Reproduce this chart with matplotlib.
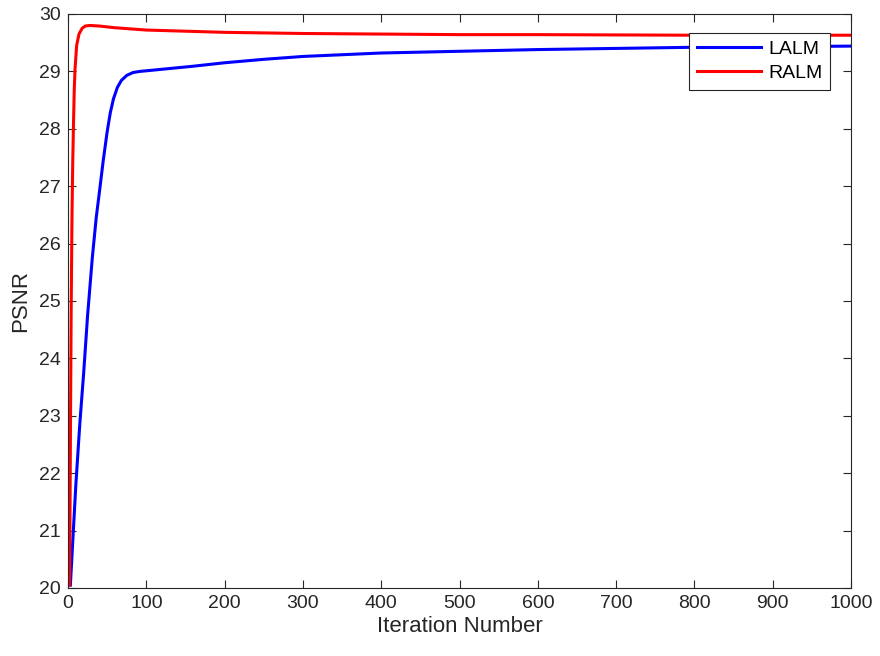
import matplotlib
matplotlib.use('Agg')
import matplotlib.pyplot as plt

plt.rcParams['font.family'] = ['Liberation Sans', 'DejaVu Sans']

# PSNR vs iteration
lalm_x = [3, 5, 7, 10, 15, 20, 25, 31, 36, 41, 45, 50, 54, 58, 63, 68, 75, 83, 92, 100,
          130, 160, 200, 250, 300, 400, 500, 600, 700, 800, 900, 1000]
lalm_y = [20.05, 20.55, 21.05, 21.8, 22.85, 23.75, 24.75, 25.75, 26.45, 27.0, 27.45,
          27.95, 28.28, 28.52, 28.72, 28.84, 28.93, 28.98, 29.0, 29.01, 29.05, 29.09,
          29.15, 29.21, 29.26, 29.32, 29.35, 29.38, 29.40, 29.42, 29.43, 29.44]

ralm_x = [2, 3, 4, 5, 6, 7, 8, 9, 11, 14, 18, 22, 28, 40, 60, 100, 150, 200,
          300, 400, 500, 600, 800, 1000]
ralm_y = [20.05, 22.5, 24.8, 26.4, 27.4, 28.1, 28.7, 29.05, 29.45, 29.65, 29.75,
          29.79, 29.80, 29.79, 29.76, 29.72, 29.70, 29.68, 29.66, 29.65, 29.64,
          29.64, 29.63, 29.63]

x_ticks = list(range(0, 1001, 100))
y_ticks = list(range(20, 31))

fig = plt.figure(figsize=(8.8, 6.56), dpi=100)
ax = fig.add_axes([0.0773, 0.1037, 0.8898, 0.875])

ax.plot(lalm_x, lalm_y, color='#0000ff', linewidth=2.2, label='LALM')
ax.plot(ralm_x, ralm_y, color='#ff0000', linewidth=2.2, label='RALM')

ax.set_xlim(0, 1000)
ax.set_ylim(20, 30)
ax.set_xticks(x_ticks)
ax.set_yticks(y_ticks)
ax.tick_params(direction='in', length=6, width=0.8, labelsize=14, pad=5,
               colors='#262626', top=True, right=True, labeltop=False, labelright=False)
for spine in ax.spines.values():
    spine.set_edgecolor('#262626')
    spine.set_linewidth(0.8)

ax.set_xlabel('Iteration Number', fontsize=16, color='#262626', labelpad=3)
ax.set_ylabel('PSNR', fontsize=16, color='#262626', labelpad=6)

leg = ax.legend(loc='upper right', bbox_to_anchor=(0.973, 0.967), borderaxespad=0,
                fontsize=14, frameon=True, fancybox=False, handlelength=3.3,
                borderpad=0.4, labelspacing=0.3, handletextpad=0.35)
leg.get_frame().set_edgecolor('#262626')
leg.get_frame().set_linewidth(0.8)
leg.get_frame().set_alpha(1)

plt.savefig('out.png', dpi=100)
plt.close()
